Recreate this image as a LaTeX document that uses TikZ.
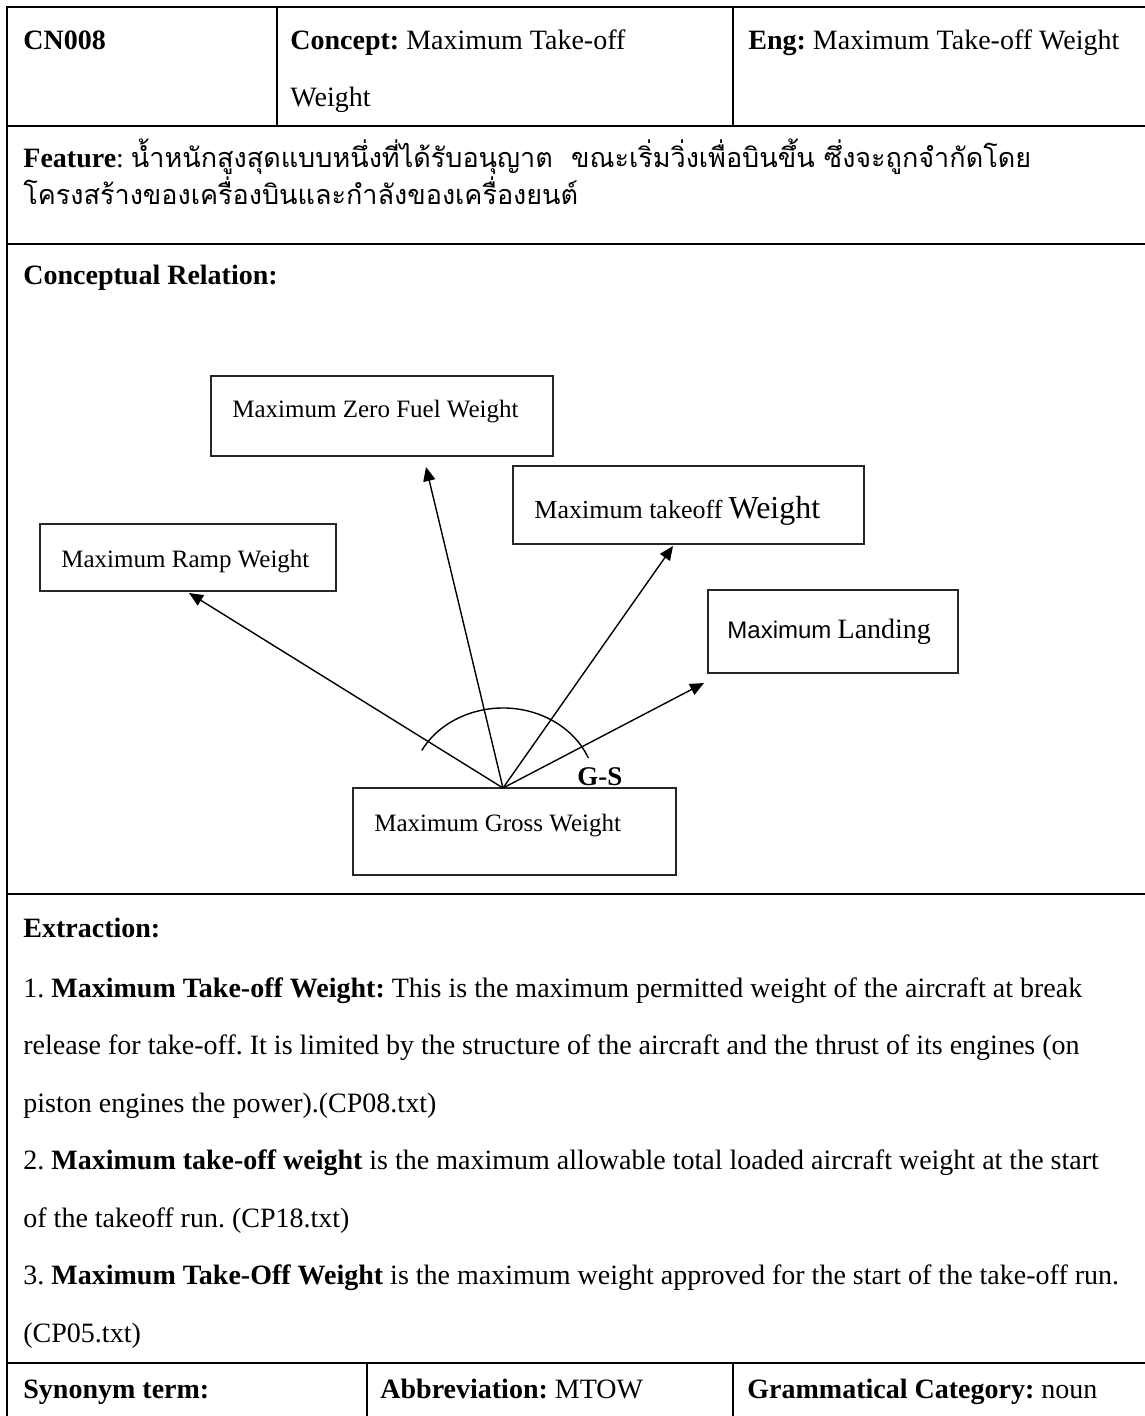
\documentclass[tikz,border=0pt]{standalone}
\usepackage{fontspec}
\setmainfont{Liberation Serif}
\newfontfamily\thaifont[Script=Thai]{Loma}
\newfontfamily\uisans{Liberation Sans}
\usetikzlibrary{arrows.meta}
\frenchspacing

\begin{document}
\begin{tikzpicture}[x=0.5pt,y=-0.5pt,
  rule/.style={line width=1pt, line cap=rect},
  celltext/.style={anchor=base west, inner sep=0pt, font=\fontsize{14}{17}\selectfont},
  box/.style={draw=black!85, line width=0.75pt, rectangle, inner sep=0pt},
  boxtext/.style={anchor=base west, inner sep=0pt, font=\fontsize{12.5}{15}\selectfont},
  rel/.style={line width=0.7pt, -{Triangle[length=7pt,width=6pt]}},
]
\useasboundingbox (0,0) rectangle (1144,1416);

% ---- table rules ----
\draw[rule] (7,7) -- (1144,7);
\draw[rule] (7,7) -- (7,1416);
\draw[rule] (7,126) -- (1144,126);
\draw[rule] (7,244) -- (1144,244);
\draw[rule] (7,894) -- (1144,894);
\draw[rule] (7,1363) -- (1144,1363);
\draw[rule] (277,7) -- (277,126);
\draw[rule] (733,7) -- (733,126);
\draw[rule] (367,1363) -- (367,1416);
\draw[rule] (733,1363) -- (733,1416);

% ---- header row ----
\node[celltext] (id) at (23,50) {\textbf{CN008}};
\node[celltext] (concept1) at (290,50) {\textbf{Concept:} Maximum Take-off};
\node[celltext] (concept2) at (290,107) {Weight};
\node[celltext] (eng) at (748,50) {\textbf{Eng:} Maximum Take-off Weight};

% ---- feature row ----
\node[celltext] (feat1) at (23,168) {\textbf{Feature}: {\thaifont\fontsize{13.5}{17}\selectfont น้ำหนักสูงสุดแบบหนึ่งที่ได้รับอนุญาต\ \ ขณะเริ่มวิ่งเพื่อบินขึ้น ซึ่งจะถูกจำกัดโดย}};
\node[celltext] (feat2) at (23,205) {\thaifont\fontsize{13.5}{17}\selectfont โครงสร้างของเครื่องบินและกำลังของเครื่องยนต์};

% ---- conceptual relation ----
\node[celltext] (relhead) at (23,285) {\textbf{Conceptual Relation:}};

\node[box, minimum width=342*0.5pt, minimum height=80*0.5pt] (zfw) at (382,416) {};
\node[box, minimum width=351*0.5pt, minimum height=78*0.5pt] (mtow) at (688.5,505) {};
\node[box, minimum width=296*0.5pt, minimum height=67*0.5pt] (ramp) at (188,557.5) {};
\node[box, minimum width=250*0.5pt, minimum height=83*0.5pt] (land) at (833,631.5) {};
\node[box, minimum width=323*0.5pt, minimum height=87*0.5pt] (gross) at (514.5,831.5) {};

\node[boxtext] (zfw-t) at (232,418) {Maximum Zero Fuel Weight};
\node[boxtext] (mtow-t) at (534,518) {{\fontsize{13}{15}\selectfont Maximum takeoff} {\fontsize{16}{18}\selectfont Weight}};
\node[boxtext] (ramp-t) at (61,567) {Maximum Ramp Weight};
\node[boxtext] (land-t) at (727,638) {{\uisans\fontsize{12}{14}\selectfont Maximum} {\fontsize{14}{16}\selectfont Landing}};
\node[boxtext] (gross-t) at (374,831) {Maximum Gross Weight};
\node[boxtext, font=\bfseries\fontsize{13.5}{15}\selectfont] (gs) at (577,785) {G-S};

\coordinate (hub) at (503,788);
\coordinate (ramp-tip) at (189,593);
\coordinate (zfw-tip) at (426,467);
\coordinate (mtow-tip) at (673,546);
\coordinate (land-tip) at (704,683);

\draw[rel] (hub) -- (ramp-tip);
\draw[rel] (hub) -- (zfw-tip);
\draw[rel] (hub) -- (mtow-tip);
\draw[rel] (hub) -- (land-tip);
\draw[line width=0.7pt] (hub) ++(-152:92 and 80) arc[start angle=-152, end angle=-22, x radius=92, y radius=80];

% ---- extraction ----
\node[celltext] (ext) at (23,937) {\textbf{Extraction:}};
\node[celltext] (ex1a) at (23,997) {1. \textbf{Maximum Take-off Weight:} This is the maximum permitted weight of the aircraft at break};
\node[celltext] (ex1b) at (23,1054) {release for take-off. It is limited by the structure of the aircraft and the thrust of its engines (on};
\node[celltext] (ex1c) at (23,1112) {piston engines the power).(CP08.txt)};
\node[celltext] (ex2a) at (23,1169) {2. \textbf{Maximum take-off weight} is the maximum allowable total loaded aircraft weight at the start};
\node[celltext] (ex2b) at (23,1227) {of the takeoff run. (CP18.txt)};
\node[celltext] (ex3a) at (23,1284) {3. \textbf{Maximum Take-Off Weight} is the maximum weight approved for the start of the take-off run.};
\node[celltext] (ex3b) at (23,1342) {(CP05.txt)};

% ---- bottom row ----
\node[celltext] (syn) at (23,1398) {\textbf{Synonym term:}};
\node[celltext] (abbr) at (380,1398) {\textbf{Abbreviation:} MTOW};
\node[celltext] (gram) at (747,1398) {\textbf{Grammatical Category:} noun};
\end{tikzpicture}
\end{document}
